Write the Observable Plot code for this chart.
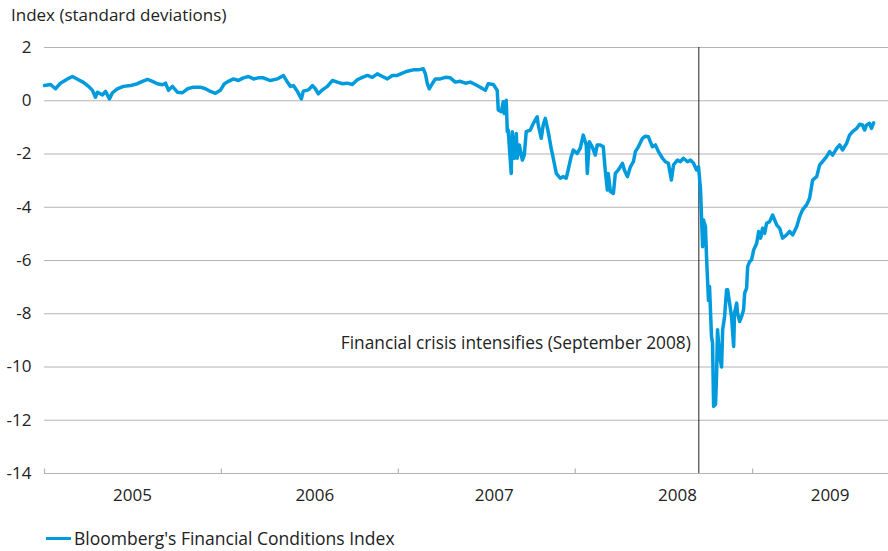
<!DOCTYPE html>
<html>
<head>
<meta charset="utf-8">
<script src="https://cdn.jsdelivr.net/npm/d3@7"></script>
<script src="https://cdn.jsdelivr.net/npm/@observablehq/plot@0.6"></script>
<style>
  body { margin: 0; background: #fff; }
  #wrap { position: relative; width: 888px; height: 551px; font-family: "Open Sans", sans-serif; color: #222; }
  #title { position: absolute; left: 11px; top: 4px; font-size: 17px; line-height: 22px; white-space: nowrap; }
  #chart { position: absolute; left: 0; top: 30px; }
  #legend { position: absolute; left: 46px; top: 527px; font-size: 17.5px; line-height: 22px; display: flex; align-items: center; white-space: nowrap; }
  #legend .sw { display: inline-block; width: 25px; height: 0; border-top: 3px solid #009bdc; margin-right: 3px; }
</style>
</head>
<body>
<div id="wrap">
  <div id="title">Index (standard deviations)</div>
  <div id="chart"></div>
  <div id="legend"><span class="sw"></span><span id="legendText"></span></div>
</div>
<script>
// ---- data (time as decimal years, index in standard deviations) ----
const seriesName = "Bloomberg's Financial Conditions Index";
const t2005 = [2005.000,2005.034,2005.062,2005.090,2005.130,2005.158,2005.192,2005.220,2005.249,2005.271,2005.288,2005.299,2005.328,2005.345,2005.367,2005.384,2005.412,2005.446,2005.486,2005.525,2005.554,2005.582,2005.610,2005.638,2005.667,2005.684,2005.701,2005.723,2005.751,2005.780,2005.808,2005.842,2005.881,2005.910,2005.938,2005.966,2005.994];
const v2005 = [0.57,0.61,0.45,0.66,0.82,0.91,0.79,0.69,0.54,0.39,0.13,0.32,0.22,0.35,0.07,0.30,0.45,0.54,0.57,0.64,0.73,0.80,0.73,0.64,0.60,0.66,0.39,0.54,0.32,0.30,0.45,0.51,0.51,0.45,0.35,0.28,0.39];
const t2006 = [2006.017,2006.040,2006.068,2006.096,2006.124,2006.153,2006.181,2006.209,2006.237,2006.277,2006.316,2006.350,2006.373,2006.390,2006.407,2006.429,2006.452,2006.463,2006.492,2006.514,2006.531,2006.548,2006.571,2006.599,2006.627,2006.655,2006.684,2006.712,2006.740,2006.768,2006.797,2006.825,2006.853,2006.881,2006.910,2006.938,2006.966,2006.994];
const v2006 = [0.64,0.73,0.82,0.76,0.86,0.91,0.82,0.86,0.86,0.76,0.82,0.95,0.70,0.54,0.57,0.36,0.07,0.36,0.41,0.57,0.45,0.26,0.41,0.54,0.76,0.70,0.64,0.66,0.61,0.79,0.88,0.95,0.88,1.01,0.91,0.82,0.95,0.95];
const t2007 = [2007.023,2007.051,2007.085,2007.113,2007.141,2007.153,2007.164,2007.175,2007.192,2007.209,2007.237,2007.266,2007.294,2007.322,2007.350,2007.379,2007.407,2007.435,2007.463,2007.492,2007.508,2007.537,2007.559,2007.565,2007.582,2007.593,2007.599,2007.610,2007.616,2007.621,2007.638,2007.644,2007.655,2007.667,2007.672,2007.684,2007.701,2007.712,2007.723,2007.746,2007.763,2007.785,2007.791,2007.808,2007.819,2007.831,2007.847,2007.864,2007.876,2007.893,2007.915,2007.932,2007.949,2007.960,2007.977,2007.989];
const v2007 = [1.04,1.11,1.16,1.16,1.20,1.01,0.64,0.45,0.64,0.82,0.82,0.88,0.86,0.70,0.73,0.66,0.70,0.61,0.51,0.39,0.64,0.61,0.39,-0.35,-0.41,-0.04,-0.48,0.02,-1.16,-1.10,-2.73,-1.16,-2.16,-1.23,-2.16,-1.66,-2.23,-2.04,-1.16,-1.10,-0.85,-0.60,-0.91,-1.41,-0.91,-0.66,-1.16,-1.79,-2.16,-2.73,-2.91,-2.85,-2.91,-2.60,-2.10,-1.85];
const t2008 = [2008.011,2008.028,2008.045,2008.062,2008.068,2008.079,2008.096,2008.113,2008.124,2008.141,2008.158,2008.169,2008.181,2008.186,2008.198,2008.215,2008.226,2008.243,2008.266,2008.277,2008.294,2008.311,2008.328,2008.339,2008.356,2008.379,2008.395,2008.412,2008.435,2008.452,2008.469,2008.492,2008.508,2008.525,2008.542,2008.554,2008.576,2008.593,2008.610,2008.633,2008.650,2008.667,2008.684,2008.695,2008.706,2008.718,2008.723,2008.734,2008.740,2008.751,2008.757,2008.768,2008.774,2008.780,2008.791,2008.797,2008.802,2008.814,2008.825,2008.831,2008.842,2008.853,2008.859,2008.870,2008.881,2008.893,2008.898,2008.910,2008.915,2008.927,2008.938,2008.949,2008.955,2008.966,2008.972,2008.983,2008.994];
const v2008 = [-1.98,-1.79,-1.29,-1.66,-2.73,-1.54,-1.73,-2.04,-1.66,-1.66,-1.73,-2.60,-3.35,-2.73,-3.41,-3.48,-2.73,-2.60,-2.35,-2.60,-2.85,-2.48,-2.29,-1.91,-1.73,-1.41,-1.33,-1.35,-1.73,-1.66,-1.91,-2.16,-2.29,-2.35,-2.98,-2.41,-2.23,-2.29,-2.16,-2.29,-2.23,-2.35,-2.60,-2.48,-3.30,-5.48,-4.48,-4.73,-5.85,-7.50,-6.98,-8.85,-9.10,-11.48,-11.40,-10.23,-8.60,-9.60,-10.00,-8.60,-8.10,-7.10,-7.10,-7.60,-8.10,-9.23,-7.98,-7.60,-7.98,-8.29,-8.10,-7.85,-7.23,-7.04,-6.23,-6.04,-5.98];
const t2009 = [2009.006,2009.023,2009.034,2009.045,2009.056,2009.068,2009.079,2009.096,2009.113,2009.136,2009.153,2009.169,2009.192,2009.209,2009.226,2009.249,2009.266,2009.282,2009.305,2009.322,2009.339,2009.362,2009.379,2009.395,2009.418,2009.435,2009.452,2009.475,2009.492,2009.508,2009.531,2009.548,2009.565,2009.588,2009.605,2009.621,2009.633,2009.644,2009.661,2009.672,2009.684];
const v2009 = [-5.60,-5.35,-4.91,-5.16,-4.79,-4.98,-4.60,-4.54,-4.29,-4.66,-4.79,-5.16,-5.04,-4.91,-5.04,-4.73,-4.35,-4.10,-3.91,-3.66,-2.98,-2.85,-2.41,-2.29,-2.10,-1.91,-2.04,-1.79,-1.66,-1.85,-1.60,-1.29,-1.16,-1.04,-0.88,-0.91,-1.10,-0.91,-0.85,-1.04,-0.83];

// axes
const yTicks = [2, 0, -2, -4, -6, -8, -10, -12, -14];
const yDomain = [-14, 2];
const xDomainYears = [2005, 2009.768];
const yearBoundaries = [2005, 2006, 2007, 2008, 2009];
const yearLabels = ["2005", "2006", "2007", "2008", "2009"];
const yearLabelAt = [2005.497, 2006.528, 2007.542, 2008.576, 2009.438];

// annotation
const crisisDate = "2008-09-12";
const crisisText = "Financial crisis intensifies (September 2008)";
const crisisTextY = -9.12;

// ---- build ----
function decToDate(t) {
  const y = Math.floor(t);
  const a = Date.UTC(y, 0, 1), b = Date.UTC(y + 1, 0, 1);
  return new Date(a + (t - y) * (b - a));
}
const times = [...t2005, ...t2006, ...t2007, ...t2008, ...t2009];
const values = [...v2005, ...v2006, ...v2007, ...v2008, ...v2009];
const data = times.map((t, i) => ({date: decToDate(t), value: values[i]}));

const labelDates = yearLabelAt.map(decToDate);
const labelMap = new Map(labelDates.map((d, i) => [+d, yearLabels[i]]));
const crisis = new Date(crisisDate);

const tickSymbol = { draw(ctx, size) { const l = Math.sqrt(size / Math.PI); ctx.moveTo(0, 0); ctx.lineTo(0, -l); } };

const BLUE = "#009bdc";
const GRID = "#b4b4b4";

const chart = Plot.plot({
  width: 888,
  height: 490,
  marginTop: 17,
  marginBottom: 47,
  marginLeft: 44,
  marginRight: 0,
  style: { fontFamily: "'Open Sans', sans-serif", fontSize: "17px", color: "#222", background: "#fff" },
  x: {
    type: "utc",
    domain: xDomainYears.map(decToDate),
    ticks: labelDates,
    tickSize: 0,
    tickPadding: 15,
    tickFormat: d => labelMap.get(+d),
    label: null
  },
  y: {
    domain: yDomain,
    ticks: yTicks,
    tickSize: 0,
    tickPadding: 13,
    tickFormat: d => String(d),
    label: null
  },
  marks: [
    Plot.ruleY(yTicks, { stroke: GRID, strokeWidth: 1.2 }),
    Plot.dot(yearBoundaries.map(decToDate), { x: d => d, y: () => yDomain[0], symbol: tickSymbol, r: 5, fill: "none", stroke: GRID, strokeWidth: 1.2 }),
    Plot.ruleX([crisis], { x: d => d, stroke: "#222", strokeWidth: 1 }),
    Plot.text([crisisText], { x: () => crisis, y: () => crisisTextY, text: d => d, textAnchor: "end", dx: -8, fontSize: 17.3, fill: "#222" }),
    Plot.line(data, { x: "date", y: "value", stroke: BLUE, strokeWidth: 3.5, strokeLinejoin: "round", strokeLinecap: "round" })
  ]
});
document.getElementById("chart").appendChild(chart);
document.getElementById("legendText").textContent = seriesName;
</script>
</body>
</html>
